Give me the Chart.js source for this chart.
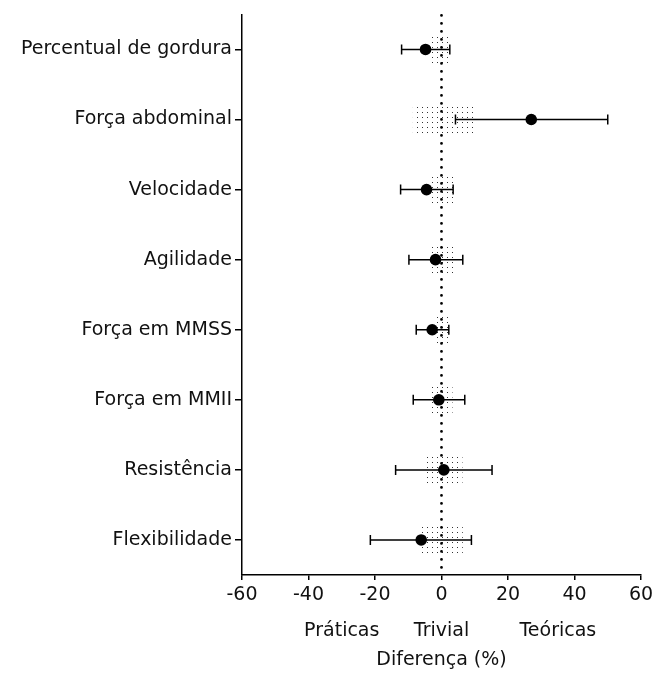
<!DOCTYPE html>
<html lang="pt">
<head>
    <meta charset="UTF-8">
    <title>Diferença (%)</title>
    <script src="https://cdn.jsdelivr.net/npm/chart.js"></script>
    <style>
        body {
            margin: 0;
            background-color: #fff;
        }
        canvas {
            display: block;
        }
    </style>
</head>
<body>
    <canvas id="chartCanvas" width="652" height="673"></canvas>
    <script>
        // dados
        const labels = ['Percentual de gordura', 'Força abdominal', 'Velocidade', 'Agilidade',
            'Força em MMSS', 'Força em MMII', 'Resistência', 'Flexibilidade'];
        const diff = [-4.8, 27, -4.5, -1.8, -2.8, -0.8, 0.7, -6.1];
        const lower = [-12, 4.2, -12.3, -9.8, -7.6, -8.5, -13.8, -21.4];
        const upper = [2.5, 50, 3.5, 6.4, 2.2, 7, 15.2, 9];
        const trivLow = [-2.8, -8.5, -3.3, -3.3, -2.4, -2.8, -5.3, -6.5];
        const trivHigh = [2.7, 9.5, 3.6, 3.6, 2.7, 3.2, 6.2, 6.3];
        const xTicks = [-60, -40, -20, 0, 20, 40, 60];
        const zoneLabels = ['Práticas', 'Trivial', 'Teóricas'];
        const zoneAt = [-30, 0, 35];

        const FONT = "'DejaVu Sans', sans-serif";

        // padrão pontilhado da zona trivial
        const pc = document.createElement('canvas');
        pc.width = 5;
        pc.height = 5;
        const pctx = pc.getContext('2d');
        pctx.fillStyle = '#333';
        pctx.fillRect(2, 2, 1, 1);
        const dots = pctx.createPattern(pc, 'repeat');

        const extras = {
            id: 'extras',
            afterDatasetDraw(chart, args) {
                if (args.index !== 1) return;
                const ctx = chart.ctx;
                const xs = chart.scales.x, ys = chart.scales.y;
                const area = chart.chartArea;
                const x0 = xs.getPixelForValue(0);

                // linha pontilhada no zero
                ctx.save();
                ctx.strokeStyle = '#000';
                ctx.lineWidth = 2.8;
                ctx.lineCap = 'round';
                ctx.setLineDash([0, 8]);
                ctx.beginPath();
                ctx.moveTo(x0, area.top + 1);
                ctx.lineTo(x0, area.bottom - 6);
                ctx.stroke();
                ctx.restore();

                // barras de erro
                ctx.save();
                ctx.strokeStyle = '#000';
                ctx.lineWidth = 1.5;
                for (let i = 0; i < labels.length; i++) {
                    const y = ys.getPixelForValue(i);
                    const a = xs.getPixelForValue(lower[i]);
                    const b = xs.getPixelForValue(upper[i]);
                    ctx.beginPath();
                    ctx.moveTo(a, y); ctx.lineTo(b, y);
                    ctx.moveTo(a, y - 5); ctx.lineTo(a, y + 5);
                    ctx.moveTo(b, y - 5); ctx.lineTo(b, y + 5);
                    ctx.stroke();
                }
                ctx.restore();
            },
            afterDraw(chart) {
                const ctx = chart.ctx;
                const xs = chart.scales.x;
                ctx.save();
                ctx.font = '19px ' + FONT;
                ctx.fillStyle = '#111';
                ctx.textAlign = 'center';
                ctx.textBaseline = 'middle';
                zoneLabels.forEach((t, i) => {
                    ctx.fillText(t, xs.getPixelForValue(zoneAt[i]), chart.chartArea.bottom + 56);
                });
                ctx.restore();
            }
        };

        const ctx = document.getElementById('chartCanvas').getContext('2d');
        const chart = new Chart(ctx, {
            data: {
                labels: labels,
                datasets: [
                    {
                        type: 'line',
                        label: 'Diferença',
                        data: diff,
                        showLine: false,
                        pointRadius: 5.8,
                        pointBackgroundColor: '#000',
                        pointBorderColor: '#000',
                        pointBorderWidth: 0
                    },
                    {
                        type: 'bar',
                        label: 'Trivial',
                        data: trivLow.map((lo, i) => [lo, trivHigh[i]]),
                        backgroundColor: dots,
                        borderWidth: 0,
                        barThickness: 30
                    }
                ]
            },
            options: {
                indexAxis: 'y',
                responsive: false,
                animation: false,
                layout: { padding: { top: 14, bottom: 0, left: 0, right: 0 } },
                plugins: {
                    legend: { display: false },
                    tooltip: { enabled: false }
                },
                scales: {
                    x: {
                        type: 'linear',
                        min: -60,
                        max: 60,
                        afterBuildTicks: s => { s.ticks = xTicks.map(v => ({ value: v })); },
                        afterFit: s => { s.height = 98; s.paddingRight = 11; },
                        ticks: {
                            color: '#111',
                            padding: 4,
                            font: { family: FONT, size: 19 }
                        },
                        grid: {
                            drawOnChartArea: false,
                            tickLength: 5,
                            color: '#000',
                            lineWidth: 1.5
                        },
                        border: { color: '#000', width: 1.5 },
                        title: {
                            display: true,
                            text: 'Diferença (%)',
                            color: '#111',
                            padding: { top: 0, bottom: 2 },
                            font: { family: FONT, size: 19 }
                        }
                    },
                    y: {
                        type: 'category',
                        offset: true,
                        afterFit: s => { s.width = 242; },
                        ticks: {
                            color: '#111',
                            padding: 3,
                            font: { family: FONT, size: 19 }
                        },
                        grid: {
                            offset: false,
                            drawOnChartArea: false,
                            tickLength: 7,
                            color: '#000',
                            lineWidth: 1.5
                        },
                        border: { color: '#000', width: 1.5 }
                    }
                }
            },
            plugins: [extras]
        });
    </script>
</body>
</html>
